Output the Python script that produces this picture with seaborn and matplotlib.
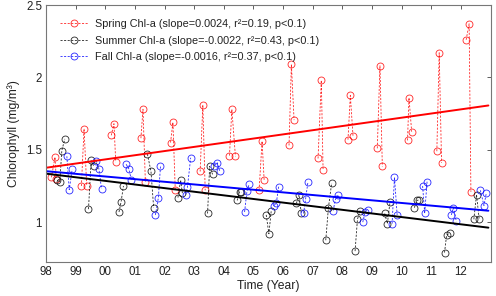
import numpy as np
import pandas as pd
import matplotlib
matplotlib.use("Agg")
import matplotlib.pyplot as plt
from matplotlib.lines import Line2D
import seaborn as sns

# ---------------- data ----------------
years = list(range(1998, 2013))

spring_t = [
    [1998.18, 1998.30, 1998.34], [1999.19, 1999.28, 1999.37], [2000.20, 2000.29, 2000.35],
    [2001.20, 2001.27, 2001.35], [2002.20, 2002.28, 2002.36], [2003.20, 2003.29, 2003.37],
    [2004.19, 2004.27, 2004.39], [2005.19, 2005.29, 2005.36], [2006.20, 2006.28, 2006.37],
    [2007.18, 2007.29, 2007.35], [2008.19, 2008.27, 2008.36], [2009.18, 2009.27, 2009.35],
    [2010.20, 2010.25, 2010.34], [2011.19, 2011.27, 2011.35], [2012.18, 2012.28, 2012.34],
]
spring_chl = [
    [1.31, 1.45, 1.30], [1.25, 1.645, 1.25], [1.60, 1.68, 1.415],
    [1.58, 1.78, 1.28], [1.55, 1.69, 1.22], [1.35, 1.81, 1.22],
    [1.46, 1.78, 1.455], [1.22, 1.56, 1.29], [1.53, 2.09, 1.705],
    [1.44, 1.98, 1.36], [1.57, 1.875, 1.595], [1.51, 2.08, 1.385],
    [1.565, 1.86, 1.625], [1.49, 2.17, 1.41], [2.26, 2.37, 1.21],
]

summer_t = [
    [1998.38, 1998.46, 1998.53, 1998.63], [1999.43, 1999.52, 1999.60], [2000.46, 2000.53, 2000.61],
    [2001.42, 2001.54, 2001.63], [2002.45, 2002.54, 2002.60], [2003.45, 2003.52, 2003.62],
    [2004.45, 2004.53, 2004.59], [2005.43, 2005.52, 2005.60], [2006.45, 2006.54, 2006.61],
    [2007.44, 2007.53, 2007.64], [2008.43, 2008.51, 2008.60], [2009.43, 2009.52, 2009.61],
    [2010.43, 2010.52, 2010.60], [2011.45, 2011.52, 2011.62], [2012.44, 2012.53, 2012.62],
]
summer_chl = [
    [1.29, 1.275, 1.495, 1.575], [1.09, 1.43, 1.39], [1.07, 1.14, 1.25],
    [1.47, 1.35, 1.10], [1.17, 1.29, 1.20], [1.06, 1.385, 1.33],
    [1.15, 1.21, 1.205], [1.05, 0.92, 1.08], [1.13, 1.19, 1.065],
    [0.875, 1.10, 1.27], [0.80, 1.02, 1.08], [1.06, 0.99, 1.14],
    [1.10, 1.15, 1.155], [0.79, 0.91, 0.925], [1.02, 1.19, 1.02],
]

fall_t = [
    [1998.70, 1998.78, 1998.88], [1999.69, 1999.78, 1999.87], [2000.70, 2000.79, 2000.88],
    [2001.69, 2001.79, 2001.86], [2002.71, 2002.77, 2002.88], [2003.68, 2003.78, 2003.86],
    [2004.70, 2004.78, 2004.86], [2005.69, 2005.77, 2005.85], [2006.69, 2006.76, 2006.84],
    [2007.69, 2007.77, 2007.86], [2008.69, 2008.77, 2008.85], [2009.68, 2009.76, 2009.85],
    [2010.71, 2010.78, 2010.86], [2011.68, 2011.75, 2011.85], [2012.66, 2012.78, 2012.86],
]
fall_chl = [
    [1.455, 1.225, 1.365], [1.425, 1.37, 1.23], [1.40, 1.37, 1.29],
    [1.05, 1.17, 1.385], [1.19, 1.24, 1.445], [1.39, 1.41, 1.355],
    [1.07, 1.215, 1.265], [1.115, 1.13, 1.245], [1.06, 1.16, 1.28],
    [1.08, 1.16, 1.185], [1.00, 1.07, 1.085], [0.99, 1.31, 1.05],
    [1.25, 1.06, 1.28], [1.05, 1.10, 1.005], [1.22, 1.115, 1.20],
]

trend_t = [1998.0, 2012.93]
spring_trend = [1.376, 1.806]
summer_trend = [1.335, 0.962]
fall_trend = [1.352, 1.079]

labels = [
    "Spring Chl-a (slope=0.0024, r\u00b2=0.19, p<0.1)",
    "Summer Chl-a (slope=-0.0022, r\u00b2=0.43, p<0.1)",
    "Fall Chl-a (slope=-0.0016, r\u00b2=0.37, p<0.1)",
]
colors = ["#ff0000", "#000000", "#0000ff"]

xtick_vals = list(range(1998, 2013))
xtick_labels = ["98", "99", "00", "01", "02", "03", "04", "05", "06",
                "07", "08", "09", "10", "11", "12"]
ytick_vals = [1, 1.5, 2, 2.5]
ytick_labels = ["1", "1.5", "2", "2.5"]


def to_frame(ts, vs):
    rows = []
    for yr, tt, vv in zip(years, ts, vs):
        for a, b in zip(tt, vv):
            rows.append({"t": a, "chl": b, "year": yr})
    return pd.DataFrame(rows)


# ---------------- plot ----------------
sns.set_theme(style="white")
plt.rcParams["font.family"] = ["Liberation Sans", "DejaVu Sans"]

fig = plt.figure(figsize=(4.96, 2.96), dpi=100)
ax = fig.add_axes([0.093, 0.115, 0.897, 0.868])

series = [(spring_t, spring_chl, spring_trend),
          (summer_t, summer_chl, summer_trend),
          (fall_t, fall_chl, fall_trend)]

for (ts, vs, tr), c in zip(series, colors):
    df = to_frame(ts, vs)
    sns.lineplot(data=df, x="t", y="chl", units="year", estimator=None,
                 color=c, linewidth=0.6, dashes=False, ax=ax, legend=False,
                 linestyle=(0, (2.5, 1.8)), marker="o", markersize=5,
                 markerfacecolor="none", markeredgecolor=c, markeredgewidth=0.6,
                 alpha=0.85)

for (ts, vs, tr), c in zip(series, colors):
    sns.lineplot(x=trend_t, y=tr, color=c, linewidth=1.4, ax=ax, legend=False)

ax.set_xlim(1998, 2013.02)
ax.set_ylim(0.725, 2.5)
ax.set_xticks(xtick_vals)
ax.set_xticklabels(xtick_labels)
ax.set_yticks(ytick_vals)
ax.set_yticklabels(ytick_labels)
ax.tick_params(direction="in", length=3, width=0.6, colors="#444444",
               labelsize=8.3, top=True, right=True, pad=3)
for lbl in ax.get_xticklabels() + ax.get_yticklabels():
    lbl.set_color("#222222")
for s in ax.spines.values():
    s.set_color("#777777")
    s.set_linewidth(0.8)
ax.set_xlabel("Time (Year)", fontsize=8.7, color="#222222", labelpad=1)
ax.set_ylabel("Chlorophyll (mg/m\u00b3)", fontsize=8.7, color="#222222", labelpad=4)

handles = [Line2D([0], [0], color=c, linewidth=0.6, linestyle=(0, (2.5, 1.8)),
                  marker="o", markersize=5, markerfacecolor="none",
                  markeredgecolor=c, markeredgewidth=0.6, alpha=0.85) for c in colors]
leg = ax.legend(handles, labels, loc="upper left", frameon=False, fontsize=7.8,
                handlelength=2.6, handletextpad=0.6, labelspacing=0.6,
                borderaxespad=0.9, bbox_to_anchor=(0.0, 1.0))
for t in leg.get_texts():
    t.set_color("#222222")

fig.savefig("out.png", dpi=100)
